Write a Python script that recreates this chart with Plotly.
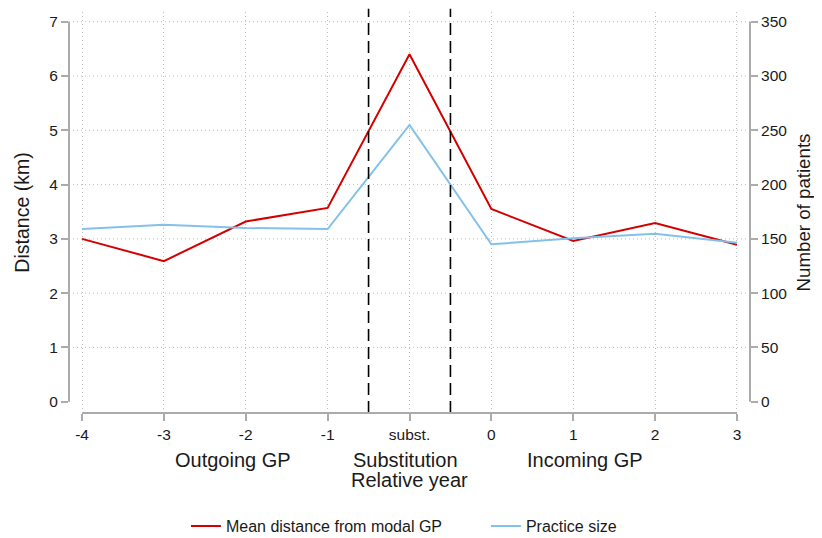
import plotly.graph_objects as go

# ---- data ----
categories = ["-4", "-3", "-2", "-1", "subst.", "0", "1", "2", "3"]
mean_distance_km = [3.00, 2.59, 3.32, 3.57, 6.40, 3.55, 2.96, 3.29, 2.89]
practice_size = [159, 163, 160, 159, 255, 145, 150.5, 154.7, 146.4]
y_ticks = [0, 1, 2, 3, 4, 5, 6, 7]
y2_ticks = [0, 50, 100, 150, 200, 250, 300, 350]
boundaries = [3.5, 4.5]  # between -1 | subst. | 0 (category index space)
group_labels = [("Outgoing GP", 1.85), ("Substitution", 3.95), ("Incoming GP", 6.14)]

RED = "#d40000"
BLUE = "#84c1ea"
AXIS = "#ababab"
GRID = "#bdbdbd"
GRID_DASH = "1px,3px"
FONT = "Liberation Sans, Arial, sans-serif"
TXT = "#1a1a1a"

x = list(range(len(categories)))

fig = go.Figure()
fig.add_trace(go.Scatter(x=x, y=mean_distance_km, mode="lines", name="Mean distance from modal GP",
                         line=dict(color=RED, width=2), yaxis="y"))
fig.add_trace(go.Scatter(x=x, y=practice_size, mode="lines", name="Practice size",
                         line=dict(color=BLUE, width=2), yaxis="y2"))

# horizontal dotted grid (skip the axis minimum)
for v in y_ticks[1:]:
    fig.add_shape(type="line", xref="paper", x0=0, x1=1, yref="y", y0=v, y1=v,
                  line=dict(color=GRID, width=1, dash=GRID_DASH), layer="below")

# dashed boundaries
for b in boundaries:
    fig.add_shape(type="line", xref="x", x0=b, x1=b, yref="paper", y0=0, y1=1.008,
                  line=dict(color="black", width=1.6, dash="12px,6px"))

# axis lines spanning only the data range
fig.add_shape(type="line", xref="x", x0=x[0], x1=x[-1], yref="paper", y0=0, y1=0,
              line=dict(color=AXIS, width=2))
fig.add_shape(type="line", xref="paper", x0=0, x1=0, yref="y", y0=y_ticks[0], y1=y_ticks[-1],
              line=dict(color=AXIS, width=2))
fig.add_shape(type="line", xref="paper", x0=1, x1=1, yref="y2", y0=y2_ticks[0], y1=y2_ticks[-1],
              line=dict(color=AXIS, width=2))

for text, pos in group_labels:
    fig.add_annotation(x=pos, xref="x", y=-0.1172, yref="paper", text=text, showarrow=False,
                       yanchor="middle", font=dict(size=20, color=TXT, family=FONT))
fig.add_annotation(x=4, xref="x", y=-0.167, yref="paper", text="Relative year", showarrow=False,
                   yanchor="middle", font=dict(size=20, color=TXT, family=FONT))

# page has an 8px body margin: figure is shrunk so the drawing lands on the target pixels
fig.update_layout(
    width=814, height=530,
    margin=dict(l=61, r=72, t=4, b=125, autoexpand=False),
    paper_bgcolor="white", plot_bgcolor="white",
    font=dict(family=FONT, color=TXT, size=15.5),
    showlegend=True,
    legend=dict(orientation="h", x=0.1717, xanchor="left", y=-0.282, yanchor="middle",
                font=dict(size=16, color=TXT, family=FONT), entrywidth=255, entrywidthmode="pixels"),
    xaxis=dict(range=[-0.159, 8.159], tickvals=x, ticktext=categories, showline=False,
               showgrid=True, gridcolor=GRID, griddash=GRID_DASH, gridwidth=1, zeroline=False,
               ticks="outside", ticklen=7, tickwidth=1.5, tickcolor=AXIS, automargin=False,
               tickfont=dict(size=15.5, color=TXT)),
    yaxis=dict(range=[-0.208, 7.179], tickvals=y_ticks, showline=False, showgrid=False,
               zeroline=False, ticks="outside", ticklen=7, tickwidth=1.5, tickcolor=AXIS,
               tickfont=dict(size=15.5, color=TXT), automargin=False,
               title=dict(text="Distance (km)", font=dict(size=19.5, color=TXT), standoff=14)),
    yaxis2=dict(range=[-10.4, 358.95], tickvals=y2_ticks, overlaying="y", side="right",
                showline=False, showgrid=False, zeroline=False, ticks="outside", ticklen=7,
                tickwidth=1.5, tickcolor=AXIS, tickfont=dict(size=15.5, color=TXT), automargin=False,
                title=dict(text="Number of patients", font=dict(size=18.7, color=TXT), standoff=10)),
)

fig.write_html("out.html")
